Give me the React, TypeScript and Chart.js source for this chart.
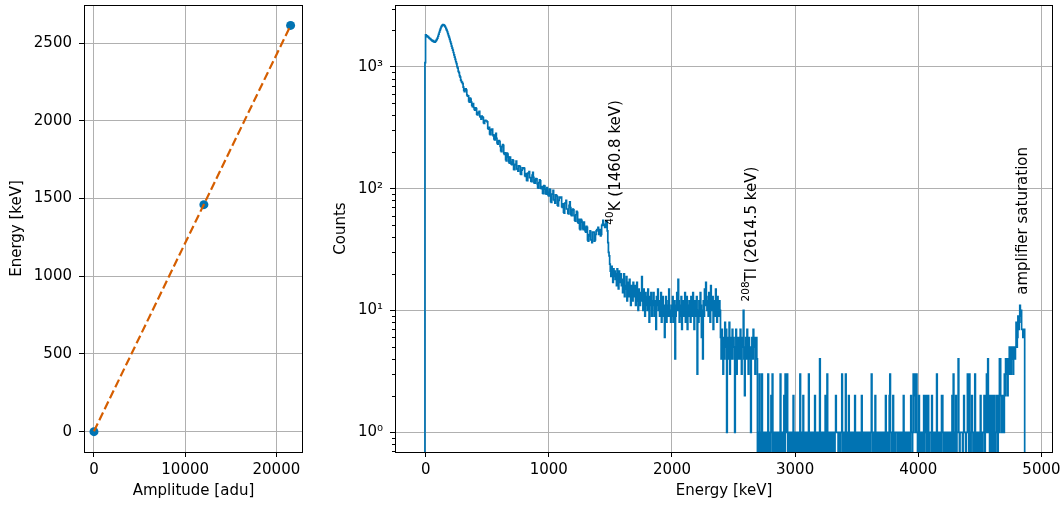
import React, { useEffect, useRef } from 'react';
import { Chart, registerables } from 'chart.js';

Chart.register(...registerables);

const FONT_FAMILY = 'DejaVu Sans';

// ---------------- Left panel: energy calibration ----------------
const calAmplitude = [0, 12050, 21560];
const calEnergy = [0, 1460.8, 2614.5];
const fitAmplitude = [0, 21560];
const fitEnergy = [3, 2614];
const leftXTicks = [0, 10000, 20000];
const leftYTicks = [0, 500, 1000, 1500, 2000, 2500];

// ---------------- Right panel: calibrated spectrum ----------------
const spectrumStartKeV = -6;
const binWidthKeV = 5;
// counts per bin, -6 .. 1494 keV
const countsLow = [
  1080, 1830, 1800, 1790, 1760, 1770, 1730, 1710, 1700, 1680,
  1660, 1650, 1620, 1640, 1600, 1610, 1590, 1620, 1650, 1680,
  1720, 1780, 1850, 1920, 1990, 2060, 2120, 2170, 2200, 2215,
  2210, 2190, 2160, 2110, 2060, 2000, 1940, 1870, 1800, 1740,
  1680, 1610, 1550, 1480, 1420, 1370, 1310, 1250, 1200, 1150,
  1100, 1062, 1004, 975, 918, 897, 846, 822, 778, 756,
  744, 726, 682, 639, 625, 656, 659, 644, 587, 573,
  578, 525, 513, 554, 542, 514, 482, 471, 499, 463,
  447, 441, 461, 454, 409, 403, 422, 416, 430, 392,
  386, 372, 394, 388, 383, 348, 343, 360, 364, 359,
  359, 353, 314, 308, 318, 281, 277, 307, 302, 308,
  276, 271, 256, 251, 276, 284, 258, 237, 232, 245,
  248, 243, 222, 205, 201, 221, 230, 226, 195, 191,
  197, 173, 169, 196, 192, 182, 166, 162, 181, 165,
  159, 157, 172, 170, 144, 143, 158, 157, 168, 145,
  144, 139, 154, 153, 152, 132, 131, 142, 148, 146,
  148, 147, 128, 126, 133, 117, 116, 134, 133, 138,
  123, 123, 115, 114, 129, 136, 124, 112, 111, 118,
  121, 120, 110, 102, 101, 112, 118, 116, 101, 100,
  104, 92, 91, 106, 105, 99, 91, 90, 102, 93,
  88, 87, 99, 98, 78, 77, 90, 90, 97, 81,
  80, 76, 89, 88, 87, 73, 72, 80, 85, 84,
  85, 85, 71, 70, 75, 64, 63, 76, 76, 80,
  68, 68, 63, 62, 73, 78, 70, 61, 60, 67,
  68, 67, 60, 55, 54, 61, 65, 64, 53, 52,
  56, 47, 46, 56, 55, 53, 47, 46, 53, 48,
  45, 44, 49, 48, 38, 37, 42, 41, 45, 38,
  38, 36, 44, 44, 44, 37, 38, 42, 45, 46,
  46, 48, 42, 43, 46, 41, 42, 50, 51, 55,
  50, 51, 48, 48, 54, 54, 45, 36, 30, 28,
];
// 1494 .. 2694 keV
const countsMid = [
  24, 21, 19, 23, 20, 17, 22, 19, 21, 18,
  20, 16, 22, 18, 15, 21, 19, 17, 20, 16,
  18, 14, 17, 20, 13, 16, 15, 19, 12, 17,
  15, 13, 18, 14, 11, 16, 14, 12, 17, 15,
  13, 16, 11, 14, 17, 12, 10, 15, 13, 11,
  14, 12, 19, 13, 10, 15, 12, 9, 14, 11,
  13, 10, 15, 12, 8, 13, 11, 14, 9, 12,
  11, 14, 9, 12, 10, 7, 13, 11, 15, 10,
  12, 9, 11, 14, 8, 10, 13, 9, 11, 6,
  10, 13, 8, 11, 9, 12, 15, 9, 10, 8,
  11, 9, 13, 8, 10, 12, 4, 9, 11, 14,
  10, 18, 12, 8, 11, 9, 13, 7, 10, 12,
  9, 11, 14, 8, 10, 13, 7, 11, 9, 12,
  10, 8, 13, 11, 9, 14, 10, 7, 12, 9,
  11, 13, 3, 10, 8, 12, 9, 14, 11, 6,
  10, 4, 12, 9, 15, 11, 17, 13, 10, 12,
  9, 14, 11, 8, 16, 12, 10, 13, 7, 11,
  12, 9, 15, 10, 8, 13, 11, 9, 12, 10,
  6, 4, 7, 5, 3, 6, 4, 8, 5, 7,
  1, 6, 4, 5, 8, 3, 6, 5, 4, 7,
  5, 6, 4, 1, 5, 7, 3, 6, 4, 5,
  6, 4, 7, 5, 3, 6, 5, 10, 4, 2,
  5, 6, 4, 7, 5, 3, 6, 4, 5, 1,
  5, 6, 4, 7, 5, 6, 3, 5, 6, 4,
];
// 2694 .. 4864 keV
const countsHigh = [
  0, 1, 0, 3, 1, 0, 1, 3, 0, 1,
  0, 1, 1, 0, 1, 0, 1, 3, 0, 1,
  1, 0, 2, 1, 3, 0, 1, 0, 1, 1,
  0, 1, 1, 0, 1, 1, 0, 3, 1, 0,
  1, 0, 1, 2, 0, 3, 1, 1, 3, 0,
  1, 0, 1, 1, 0, 1, 1, 0, 2, 0,
  1, 0, 1, 1, 0, 1, 0, 1, 0, 3,
  1, 0, 1, 0, 2, 1, 0, 1, 0, 0,
  1, 0, 1, 3, 0, 1, 0, 1, 1, 0,
  1, 1, 0, 2, 0, 1, 0, 1, 0, 0,
  1, 4, 0, 1, 0, 1, 1, 0, 1, 0,
  2, 0, 1, 3, 0, 1, 0, 1, 0, 0,
  1, 1, 0, 1, 1, 0, 1, 2, 1, 1,
  1, 0, 1, 1, 0, 1, 1, 3, 0, 1,
  0, 1, 0, 3, 1, 0, 1, 0, 2, 1,
  0, 1, 0, 0, 1, 0, 1, 0, 2, 1,
  0, 1, 0, 1, 1, 0, 1, 1, 0, 2,
  1, 0, 1, 0, 1, 1, 0, 1, 0, 1,
  0, 0, 1, 0, 1, 3, 1, 0, 1, 0,
  1, 2, 0, 1, 0, 1, 0, 1, 1, 0,
  1, 0, 1, 0, 1, 1, 0, 1, 2, 0,
  1, 0, 1, 0, 2, 3, 1, 0, 1, 0,
  2, 1, 0, 1, 0, 1, 1, 1, 0, 1,
  0, 1, 1, 0, 1, 0, 1, 2, 0, 1,
  0, 1, 0, 1, 1, 0, 1, 0, 1, 2,
  1, 0, 1, 3, 2, 3, 1, 2, 3, 1,
  0, 1, 2, 0, 1, 0, 1, 1, 0, 1,
  2, 0, 2, 1, 2, 0, 1, 2, 0, 1,
  1, 1, 0, 2, 1, 0, 1, 1, 0, 1,
  0, 3, 1, 0, 1, 1, 0, 1, 0, 2,
  2, 1, 0, 1, 0, 1, 1, 0, 1, 0,
  1, 0, 1, 1, 0, 1, 2, 0, 3, 1,
  0, 1, 2, 0, 1, 1, 4, 1, 0, 1,
  1, 1, 1, 0, 1, 2, 1, 1, 0, 1,
  1, 3, 1, 0, 3, 1, 0, 1, 2, 1,
  0, 1, 0, 3, 1, 0, 1, 0, 1, 1,
  0, 1, 2, 0, 1, 0, 1, 1, 2, 0,
  1, 2, 3, 1, 4, 2, 1, 0, 2, 1,
  0, 2, 1, 0, 2, 1, 0, 1, 2, 1,
  0, 2, 1, 4, 4, 2, 1, 2, 1, 2,
  1, 3, 2, 4, 3, 4, 2, 4, 3, 5,
  4, 3, 5, 4, 5, 3, 4, 5, 4, 5,
  8, 5, 6, 9, 7, 8, 11, 9, 10, 7,
  7, 6, 7, 7,
];
const rightXTicks = [0, 1000, 2000, 3000, 4000, 5000];
const rightYTicks = [1, 10, 100, 1000];
const rightYTickLabels = ['10⁰', '10¹', '10²', '10³'];
const minorMantissas = [2, 3, 4, 5, 6, 7, 8, 9];
const minorDecades = [0.1, 1, 10, 100, 1000];
const peakLabels = [
  { sup: '40', text: 'K (1460.8 keV)', x: 1577, y: 50.6 },
  { sup: '208', text: 'Tl (2614.5 keV)', x: 2681, y: 11.85 },
  { sup: '', text: 'amplifier saturation', x: 4881, y: 13.45 },
];

const BLUE = '#0173B2';
const ORANGE = '#D55E00';
const GRID = '#b0b0b0';
const ZERO_FLOOR = 0.05; // empty bins drawn below the log axis

function fixAxis(size: number, horizontal: boolean) {
  return (scale: any) => {
    if (horizontal) scale.height = size;
    else scale.width = size;
    scale.paddingLeft = 0;
    scale.paddingRight = 0;
    scale.paddingTop = 0;
    scale.paddingBottom = 0;
  };
}

const font = { family: FONT_FAMILY, size: 15 };

const framePlugin = {
  id: 'frame',
  afterDatasetsDraw(chart: any) {
    const { ctx, chartArea } = chart;
    const { left, right, top, bottom } = chartArea;
    ctx.save();
    ctx.strokeStyle = '#000';
    ctx.lineWidth = 1;
    ctx.strokeRect(Math.round(left) + 0.5, Math.round(top) + 0.5, Math.round(right - left) - 1, Math.round(bottom - top));
    ctx.restore();
  },
};

const minorTickPlugin = {
  id: 'minorTicks',
  afterDatasetsDraw(chart: any) {
    const { ctx, chartArea, scales } = chart;
    const y = scales.y;
    ctx.save();
    ctx.strokeStyle = '#000';
    ctx.lineWidth = 1;
    for (const d of minorDecades) {
      for (const m of minorMantissas) {
        const v = m * d;
        if (v < y.min || v > y.max) continue;
        const py = Math.round(y.getPixelForValue(v)) + 0.5;
        ctx.beginPath();
        ctx.moveTo(chartArea.left - 3, py);
        ctx.lineTo(chartArea.left, py);
        ctx.stroke();
      }
    }
    ctx.restore();
  },
};

const peakLabelPlugin = {
  id: 'peakLabels',
  afterDatasetsDraw(chart: any) {
    const { ctx, scales } = chart;
    ctx.save();
    ctx.fillStyle = '#000';
    ctx.textBaseline = 'alphabetic';
    ctx.textAlign = 'left';
    for (const lab of peakLabels) {
      const px = scales.x.getPixelForValue(lab.x);
      const py = scales.y.getPixelForValue(lab.y);
      ctx.save();
      ctx.translate(px, py);
      ctx.rotate(-Math.PI / 2);
      let off = 0;
      if (lab.sup) {
        ctx.font = `10.5px "${FONT_FAMILY}"`;
        ctx.fillText(lab.sup, 0, -7);
        off = ctx.measureText(lab.sup).width;
      }
      ctx.font = `15px "${FONT_FAMILY}"`;
      ctx.fillText(lab.text, off, 0);
      ctx.restore();
    }
    ctx.restore();
  },
};

function axisCommon(ticks: number[], label: (v: number) => string) {
  return {
    afterBuildTicks: (s: any) => {
      s.ticks = ticks.map((v) => ({ value: v }));
    },
    ticks: {
      callback: (v: any) => label(Number(v)),
      color: '#000',
      font,
      maxRotation: 0,
      autoSkip: false,
    },
    grid: { color: GRID, lineWidth: 1, tickColor: '#000', tickLength: 5, tickWidth: 1 },
    border: { display: false },
  };
}

export default function App() {
  const leftRef = useRef<HTMLCanvasElement>(null);
  const rightRef = useRef<HTMLCanvasElement>(null);

  useEffect(() => {
    const allCounts = [...countsLow, ...countsMid, ...countsHigh];
    const steps: { x: number; y: number }[] = [{ x: spectrumStartKeV, y: ZERO_FLOOR }];
    allCounts.forEach((c, i) => {
      steps.push({ x: spectrumStartKeV + i * binWidthKeV, y: c > 0 ? c : ZERO_FLOOR });
    });
    steps.push({ x: spectrumStartKeV + allCounts.length * binWidthKeV, y: ZERO_FLOOR });

    const leftX = axisCommon(leftXTicks, (v) => String(v));
    const leftY = axisCommon(leftYTicks, (v) => String(v));

    const left = new Chart(leftRef.current as HTMLCanvasElement, {
      type: 'scatter',
      data: {
        datasets: [
          {
            data: fitAmplitude.map((a, i) => ({ x: a, y: fitEnergy[i] })),
            showLine: true,
            borderColor: ORANGE,
            borderWidth: 2.2,
            borderDash: [8.5, 3.7],
            pointRadius: 0,
            order: 0,
          } as any,
          {
            data: calAmplitude.map((a, i) => ({ x: a, y: calEnergy[i] })),
            backgroundColor: BLUE,
            borderWidth: 0,
            pointRadius: 4.5,
            order: 1,
          },
        ],
      },
      options: {
        animation: false,
        responsive: false,
        devicePixelRatio: 1,
        events: [],
        layout: { padding: { left: 0, right: 17, top: 5, bottom: 0 } },
        plugins: { legend: { display: false }, tooltip: { enabled: false } },
        scales: {
          x: {
            type: 'linear',
            min: -1095,
            max: 22920,
            ...leftX,
            ticks: { ...leftX.ticks, padding: 4 },
            afterFit: fixAxis(53, true),
            title: { display: true, text: 'Amplitude [adu]', color: '#000', font, padding: { top: 0, bottom: 5 } },
          } as any,
          y: {
            type: 'linear',
            min: -131,
            max: 2746,
            ...leftY,
            ticks: { ...leftY.ticks, padding: 7 },
            afterFit: fixAxis(84, false),
            title: { display: true, text: 'Energy [keV]', color: '#000', font, padding: { top: 8.5, bottom: 0 } },
          } as any,
        },
      },
      plugins: [framePlugin],
    });

    const rightX = axisCommon(rightXTicks, (v) => String(v));
    const rightY = axisCommon(rightYTicks, (v) => {
      const i = rightYTicks.indexOf(v);
      return i >= 0 ? rightYTickLabels[i] : '';
    });

    const right = new Chart(rightRef.current as HTMLCanvasElement, {
      type: 'line',
      data: {
        datasets: [
          {
            data: steps,
            stepped: true,
            borderColor: BLUE,
            borderWidth: 1.7,
            pointRadius: 0,
            fill: false,
            clip: 0,
          } as any,
        ],
      },
      options: {
        animation: false,
        responsive: false,
        devicePixelRatio: 1,
        events: [],
        layout: { padding: { left: 0, right: 7, top: 5, bottom: 0 } },
        plugins: { legend: { display: false }, tooltip: { enabled: false } },
        scales: {
          x: {
            type: 'linear',
            min: -249,
            max: 5094,
            ...rightX,
            ticks: { ...rightX.ticks, padding: 4 },
            afterFit: fixAxis(53, true),
            title: { display: true, text: 'Energy [keV]', color: '#000', font, padding: { top: 0, bottom: 5 } },
          } as any,
          y: {
            type: 'logarithmic',
            min: 0.689,
            max: 3214,
            ...rightY,
            ticks: { ...rightY.ticks, padding: 7 },
            afterFit: fixAxis(75, false),
            title: { display: true, text: 'Counts', color: '#000', font, padding: { top: 12, bottom: 0 } },
          } as any,
        },
      },
      plugins: [framePlugin, minorTickPlugin, peakLabelPlugin],
    });

    return () => {
      left.destroy();
      right.destroy();
    };
  }, []);

  return (
    <div style={{ position: 'absolute', left: 0, top: 0, width: 1060, height: 505, background: '#fff' }}>
      <canvas
        ref={leftRef}
        width={320}
        height={505}
        style={{ position: 'absolute', left: 0, top: 0, width: 320, height: 505 }}
      />
      <canvas
        ref={rightRef}
        width={740}
        height={505}
        style={{ position: 'absolute', left: 320, top: 0, width: 740, height: 505 }}
      />
    </div>
  );
}
